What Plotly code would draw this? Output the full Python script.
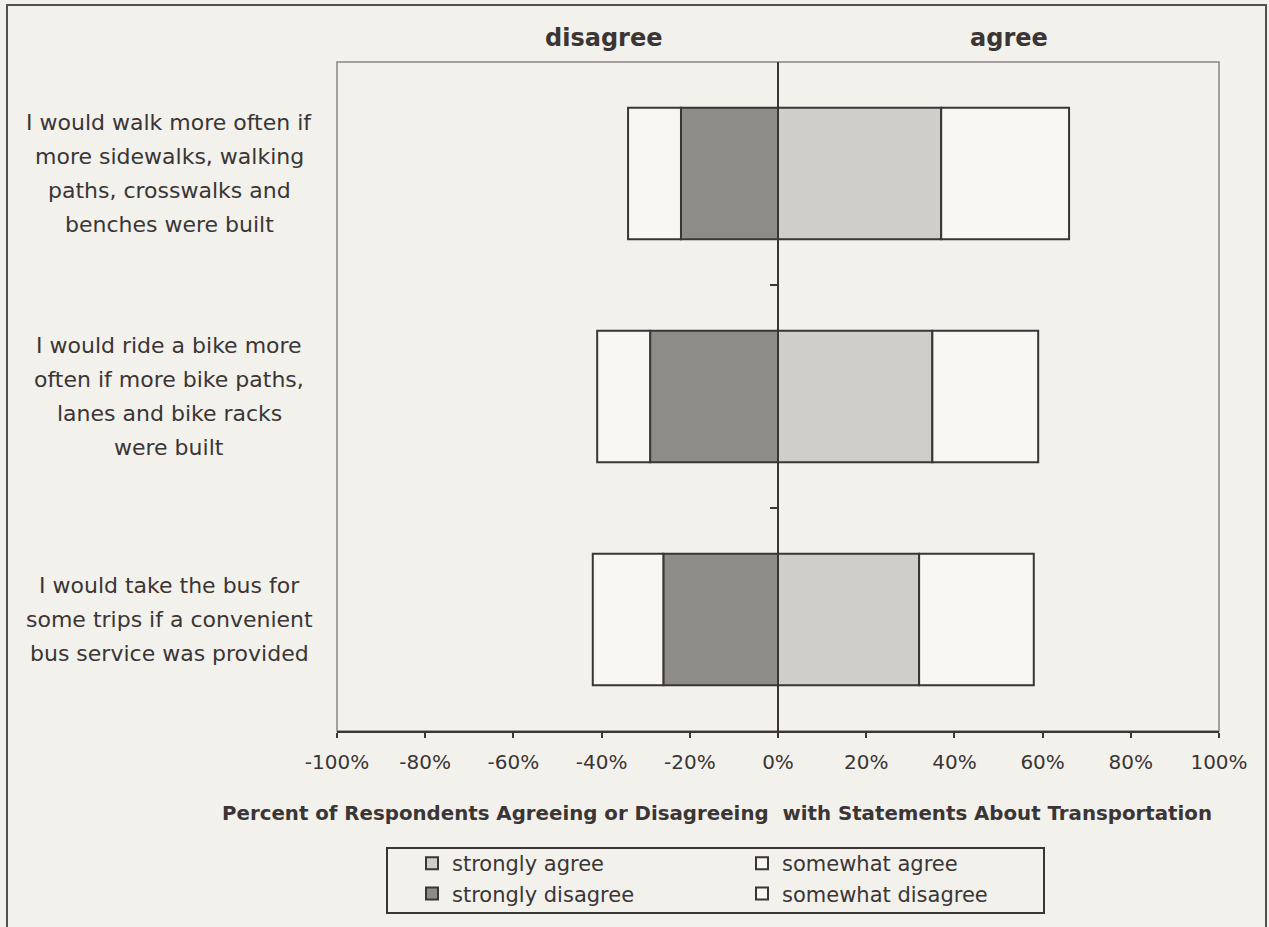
import plotly.graph_objects as go

# Survey statements (top to bottom) and their wrapped label lines
categories = ["walk", "bike", "bus"]
category_lines = [
    ["I would walk more often if", "more sidewalks, walking", "paths, crosswalks and", "benches were built"],
    ["I would ride a bike more", "often if more bike paths,", "lanes and bike racks", "were built"],
    ["I would take the bus for", "some trips if a convenient", "bus service was provided"],
]

# Percent of respondents per response level
strongly_agree = [37, 35, 32]
somewhat_agree = [29, 24, 26]
strongly_disagree = [22, 29, 26]
somewhat_disagree = [12, 12, 16]

tick_values = [-100, -80, -60, -40, -20, 0, 20, 40, 60, 80, 100]
tick_labels = ["-100%", "-80%", "-60%", "-40%", "-20%", "0%", "20%", "40%", "60%", "80%", "100%"]

W, H = 1269, 927
L, R, T, B = 337, 1219, 62, 731

def px_x(x):
    return (x - L) / (R - L)

def px_y(y):
    return (B - y) / (B - T)

INK = "#3b3535"
BG = "#f2f1ec"
FONT = "DejaVu Sans"
edge = dict(color=INK, width=2)

fig = go.Figure()
fig.add_trace(go.Bar(name="strongly agree", y=categories, x=strongly_agree, orientation="h",
                     marker=dict(color="#cfceca", line=edge), legendrank=1))
fig.add_trace(go.Bar(name="strongly disagree", y=categories, x=[-v for v in strongly_disagree],
                     orientation="h", marker=dict(color="#8e8c88", line=edge), legendrank=3))
fig.add_trace(go.Bar(name="somewhat agree", y=categories, x=somewhat_agree, orientation="h",
                     marker=dict(color="#f8f7f3", line=edge), legendrank=2))
fig.add_trace(go.Bar(name="somewhat disagree", y=categories, x=[-v for v in somewhat_disagree],
                     orientation="h", marker=dict(color="#f8f7f3", line=edge), legendrank=4))

# helper trace that carries the category tick axis sitting on the zero line
fig.add_trace(go.Scatter(x=[0], y=[0], yaxis="y2", mode="markers", marker=dict(opacity=0),
                         showlegend=False, hoverinfo="skip"))

annotations = []
for cat, lines in zip(categories, category_lines):
    n = len(lines)
    for i, line in enumerate(lines):
        annotations.append(dict(
            text=line, xref="paper", yref="y", x=px_x(169), y=cat,
            yshift=((n - 1) / 2 - i) * 34, xanchor="center", yanchor="middle",
            showarrow=False, font=dict(family=FONT, size=22, color=INK)))

annotations += [
    dict(text="<b>disagree</b>", xref="paper", yref="paper", x=px_x(603), y=px_y(38),
         xanchor="center", yanchor="middle", showarrow=False,
         font=dict(family=FONT, size=24, color=INK)),
    dict(text="<b>agree</b>", xref="paper", yref="paper", x=px_x(1009), y=px_y(38),
         xanchor="center", yanchor="middle", showarrow=False,
         font=dict(family=FONT, size=24, color=INK)),
    dict(text="<b>Percent of Respondents Agreeing or Disagreeing\u00a0 with Statements About Transportation</b>",
         xref="paper", yref="paper", x=px_x(717), y=px_y(813),
         xanchor="center", yanchor="middle", showarrow=False,
         font=dict(family=FONT, size=19.8, color=INK)),
]

shapes = [
    # plot area frame
    dict(type="rect", xref="paper", yref="paper", x0=0, x1=1, y0=0, y1=1,
         line=dict(color="#8a8585", width=1.5), layer="below"),
    # outer chart frame
    dict(type="rect", xref="paper", yref="paper", x0=px_x(7), x1=px_x(1266),
         y0=px_y(940), y1=px_y(5), line=dict(color="#555050", width=2), layer="below"),
    # legend frame
    dict(type="rect", xref="paper", yref="paper", x0=px_x(387), x1=px_x(1044),
         y0=px_y(913), y1=px_y(848), line=dict(color=INK, width=2), layer="below"),
]

fig.update_layout(
    width=W, height=H,
    margin=dict(l=L, r=W - R, t=T, b=H - B, autoexpand=False),
    paper_bgcolor=BG, plot_bgcolor=BG,
    barmode="relative", bargap=0.41,
    font=dict(family=FONT, color=INK),
    showlegend=True,
    legend=dict(
        orientation="h", x=px_x(412), y=px_y(843), xanchor="left", yanchor="top",
        bgcolor="rgba(0,0,0,0)", borderwidth=0,
        entrywidth=285, entrywidthmode="pixels",
        font=dict(family=FONT, size=21, color=INK),
        traceorder="normal",
    ),
    xaxis=dict(
        range=[-100, 100], tickvals=tick_values, ticktext=tick_labels,
        showgrid=False, zeroline=True, zerolinecolor=INK, zerolinewidth=2,
        showline=True, linecolor=INK, linewidth=2,
        ticks="outside", ticklen=5, tickwidth=2, tickcolor=INK,
        ticklabelstandoff=7,
        tickfont=dict(family=FONT, size=20, color=INK),
    ),
    yaxis=dict(
        categoryorder="array", categoryarray=categories, autorange="reversed",
        showticklabels=False, showgrid=False, zeroline=False, showline=False, ticks="",
    ),
    yaxis2=dict(
        overlaying="y", anchor="free", position=0.5, side="left",
        range=[2.5, -0.5], tickvals=[0.5, 1.5], ticks="outside", ticklen=8,
        tickwidth=2, tickcolor=INK, showticklabels=False, showgrid=False,
        zeroline=False, showline=False,
    ),
    annotations=annotations,
    shapes=shapes,
)

fig.write_html("out.html")
